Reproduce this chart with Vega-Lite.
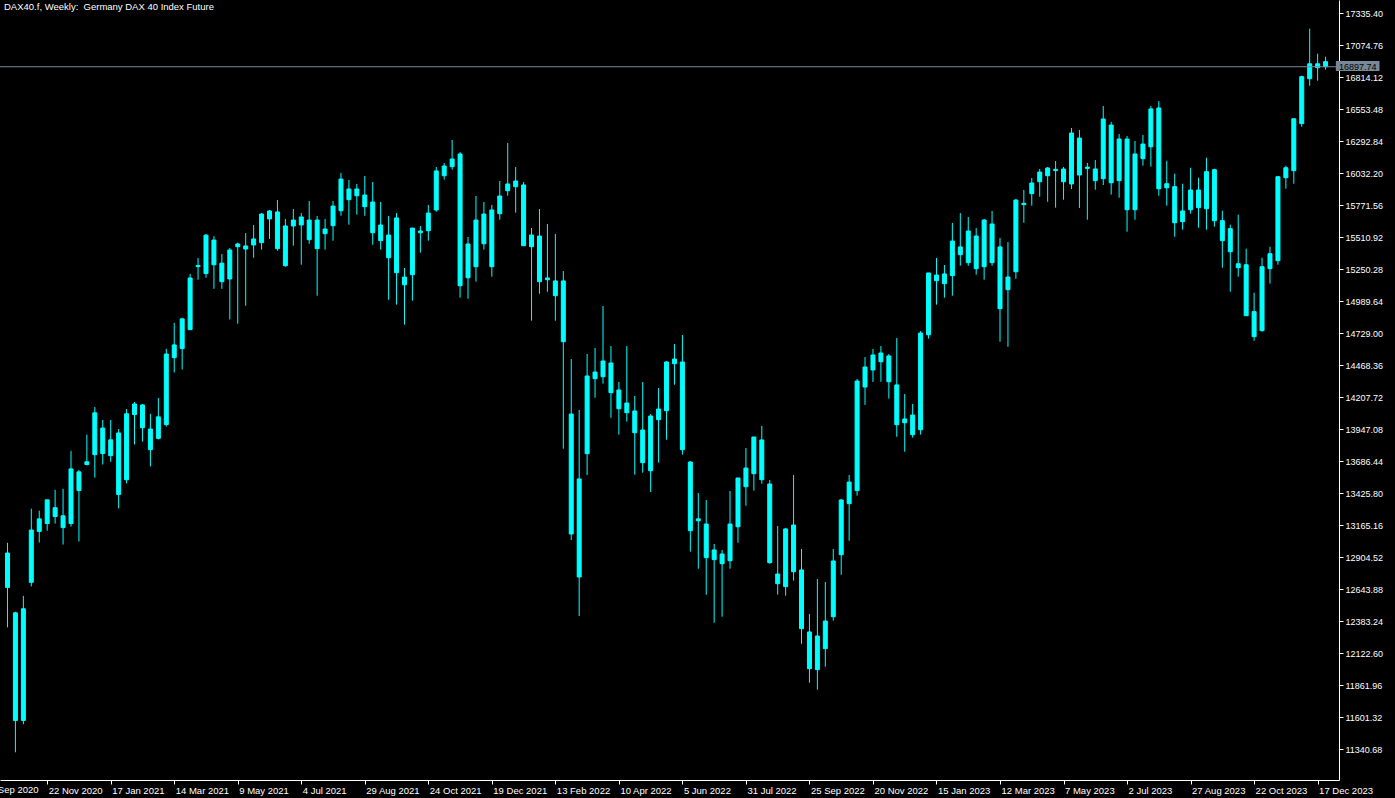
{
  "$schema": "https://vega.github.io/schema/vega-lite/v6.json",
  "width": 1339,
  "height": 780,
  "autosize": {"type": "none"},
  "padding": {"left": 0, "top": 0, "right": 56, "bottom": 18},
  "background": "#000000",
  "config": {"view": {"stroke": null}},
  "title": {"text": "DAX40.f, Weekly:\u00a0 Germany DAX 40 Index Future", "anchor": "start", "frame": "group", "orient": "top", "offset": -12, "dx": 4, "dy": -1, "font": "Liberation Sans", "fontSize": 9.5, "fontWeight": "normal", "color": "#FFFFFF", "baseline": "top"},
  "layer": [
    {
      "data": {"name": "candles", "values": [
        {"d":"2020-10-18","o":12937,"h":13020,"l":12332,"c":12657},
        {"d":"2020-10-25","o":12450,"h":12458,"l":11314,"c":11573},
        {"d":"2020-11-01","o":11573,"h":12588,"l":11542,"c":12483},
        {"d":"2020-11-08","o":12698,"h":13298,"l":12665,"c":13124},
        {"d":"2020-11-15","o":13113,"h":13282,"l":13023,"c":13215},
        {"d":"2020-11-22","o":13177,"h":13370,"l":13119,"c":13370},
        {"d":"2020-11-29","o":13306,"h":13452,"l":13177,"c":13234},
        {"d":"2020-12-06","o":13240,"h":13460,"l":13006,"c":13144},
        {"d":"2020-12-13","o":13177,"h":13769,"l":13152,"c":13622},
        {"d":"2020-12-20","o":13598,"h":13614,"l":13031,"c":13446},
        {"d":"2020-12-27","o":13658,"h":13901,"l":13650,"c":13680},
        {"d":"2021-01-03","o":13738,"h":14126,"l":13551,"c":14079},
        {"d":"2021-01-10","o":13955,"h":14021,"l":13658,"c":13747},
        {"d":"2021-01-17","o":13730,"h":14021,"l":13680,"c":13859},
        {"d":"2021-01-24","o":13915,"h":13947,"l":13300,"c":13414},
        {"d":"2021-01-31","o":13534,"h":14109,"l":13504,"c":14071},
        {"d":"2021-02-07","o":14065,"h":14167,"l":13821,"c":14151},
        {"d":"2021-02-14","o":14143,"h":14151,"l":13845,"c":13958},
        {"d":"2021-02-21","o":13947,"h":14071,"l":13642,"c":13779},
        {"d":"2021-02-28","o":13871,"h":14200,"l":13862,"c":14046},
        {"d":"2021-03-07","o":13983,"h":14600,"l":13967,"c":14558},
        {"d":"2021-03-14","o":14528,"h":14811,"l":14407,"c":14632},
        {"d":"2021-03-21","o":14602,"h":14853,"l":14432,"c":14844},
        {"d":"2021-03-28","o":14756,"h":15210,"l":14756,"c":15177},
        {"d":"2021-04-04","o":15270,"h":15340,"l":15163,"c":15278},
        {"d":"2021-04-11","o":15213,"h":15535,"l":15180,"c":15526},
        {"d":"2021-04-18","o":15486,"h":15518,"l":15089,"c":15285},
        {"d":"2021-04-25","o":15298,"h":15372,"l":15089,"c":15147},
        {"d":"2021-05-02","o":15169,"h":15422,"l":14839,"c":15405},
        {"d":"2021-05-09","o":15432,"h":15465,"l":14805,"c":15454},
        {"d":"2021-05-16","o":15438,"h":15543,"l":14951,"c":15413},
        {"d":"2021-05-23","o":15446,"h":15609,"l":15342,"c":15495},
        {"d":"2021-05-30","o":15465,"h":15706,"l":15408,"c":15698},
        {"d":"2021-06-06","o":15658,"h":15731,"l":15495,"c":15723},
        {"d":"2021-06-13","o":15715,"h":15812,"l":15399,"c":15416},
        {"d":"2021-06-20","o":15277,"h":15658,"l":15269,"c":15601},
        {"d":"2021-06-27","o":15601,"h":15739,"l":15440,"c":15649},
        {"d":"2021-07-04","o":15609,"h":15706,"l":15285,"c":15674},
        {"d":"2021-07-11","o":15649,"h":15804,"l":15456,"c":15489},
        {"d":"2021-07-18","o":15416,"h":15682,"l":15033,"c":15649},
        {"d":"2021-07-25","o":15576,"h":15658,"l":15408,"c":15538},
        {"d":"2021-08-01","o":15603,"h":15804,"l":15481,"c":15763},
        {"d":"2021-08-08","o":15725,"h":16032,"l":15684,"c":15983},
        {"d":"2021-08-15","o":15902,"h":15975,"l":15611,"c":15815},
        {"d":"2021-08-22","o":15847,"h":15943,"l":15693,"c":15902},
        {"d":"2021-08-29","o":15853,"h":16008,"l":15684,"c":15758},
        {"d":"2021-09-05","o":15796,"h":15959,"l":15448,"c":15546},
        {"d":"2021-09-12","o":15609,"h":15796,"l":15408,"c":15481},
        {"d":"2021-09-19","o":15342,"h":15682,"l":15000,"c":15527},
        {"d":"2021-09-26","o":15666,"h":15706,"l":14960,"c":15220},
        {"d":"2021-10-03","o":15122,"h":15258,"l":14797,"c":15185},
        {"d":"2021-10-10","o":15204,"h":15584,"l":14992,"c":15584},
        {"d":"2021-10-17","o":15560,"h":15601,"l":15383,"c":15546},
        {"d":"2021-10-24","o":15562,"h":15772,"l":15481,"c":15706},
        {"d":"2021-10-31","o":15731,"h":16081,"l":15717,"c":16049},
        {"d":"2021-11-07","o":16010,"h":16114,"l":15978,"c":16089},
        {"d":"2021-11-14","o":16084,"h":16301,"l":16059,"c":16146},
        {"d":"2021-11-21","o":16187,"h":16203,"l":15017,"c":15114},
        {"d":"2021-11-28","o":15454,"h":15511,"l":15008,"c":15179},
        {"d":"2021-12-05","o":15269,"h":15845,"l":15147,"c":15649},
        {"d":"2021-12-12","o":15698,"h":15796,"l":15408,"c":15456},
        {"d":"2021-12-19","o":15269,"h":15772,"l":15188,"c":15731},
        {"d":"2021-12-26","o":15701,"h":15967,"l":15652,"c":15845},
        {"d":"2022-01-02","o":15888,"h":16277,"l":15847,"c":15943},
        {"d":"2022-01-09","o":15921,"h":16081,"l":15709,"c":15967},
        {"d":"2022-01-16","o":15935,"h":15959,"l":15440,"c":15440},
        {"d":"2022-01-23","o":15432,"h":15584,"l":14829,"c":15527},
        {"d":"2022-01-30","o":15519,"h":15739,"l":15049,"c":15147},
        {"d":"2022-02-06","o":15163,"h":15617,"l":15065,"c":15177},
        {"d":"2022-02-13","o":15153,"h":15535,"l":14829,"c":15033},
        {"d":"2022-02-20","o":15153,"h":15234,"l":13787,"c":14658},
        {"d":"2022-02-27","o":14069,"h":14517,"l":13043,"c":13092},
        {"d":"2022-03-06","o":12742,"h":14102,"l":12424,"c":13540},
        {"d":"2022-03-13","o":13746,"h":14558,"l":13572,"c":14379},
        {"d":"2022-03-20","o":14357,"h":14607,"l":14202,"c":14411},
        {"d":"2022-03-27","o":14373,"h":14949,"l":14316,"c":14501},
        {"d":"2022-04-03","o":14485,"h":14623,"l":14039,"c":14243},
        {"d":"2022-04-10","o":14265,"h":14330,"l":13901,"c":14112},
        {"d":"2022-04-17","o":14159,"h":14623,"l":14007,"c":14080},
        {"d":"2022-04-24","o":13917,"h":14216,"l":13575,"c":14094},
        {"d":"2022-05-01","o":13939,"h":14330,"l":13591,"c":13673},
        {"d":"2022-05-08","o":13607,"h":14069,"l":13434,"c":14053},
        {"d":"2022-05-15","o":14110,"h":14281,"l":13673,"c":14023},
        {"d":"2022-05-22","o":14096,"h":14501,"l":13860,"c":14493},
        {"d":"2022-05-29","o":14517,"h":14639,"l":14308,"c":14479},
        {"d":"2022-06-05","o":14493,"h":14713,"l":13738,"c":13779},
        {"d":"2022-06-12","o":13678,"h":13687,"l":12948,"c":13119},
        {"d":"2022-06-19","o":13200,"h":13426,"l":12809,"c":13215},
        {"d":"2022-06-26","o":13173,"h":13369,"l":12598,"c":12899},
        {"d":"2022-07-03","o":12883,"h":13011,"l":12369,"c":12962},
        {"d":"2022-07-10","o":12929,"h":12962,"l":12418,"c":12850},
        {"d":"2022-07-17","o":12874,"h":13442,"l":12809,"c":13173},
        {"d":"2022-07-24","o":13151,"h":13548,"l":13021,"c":13548},
        {"d":"2022-07-31","o":13477,"h":13792,"l":13322,"c":13629},
        {"d":"2022-08-07","o":13583,"h":13882,"l":13445,"c":13882},
        {"d":"2022-08-14","o":13858,"h":13972,"l":13502,"c":13534},
        {"d":"2022-08-21","o":13499,"h":13532,"l":12850,"c":12858},
        {"d":"2022-08-28","o":12766,"h":13157,"l":12598,"c":12687},
        {"d":"2022-09-04","o":12663,"h":13141,"l":12589,"c":13133},
        {"d":"2022-09-11","o":13165,"h":13572,"l":12712,"c":12785},
        {"d":"2022-09-18","o":12799,"h":12970,"l":12198,"c":12321},
        {"d":"2022-09-25","o":12294,"h":12440,"l":11881,"c":11995},
        {"d":"2022-10-02","o":11987,"h":12725,"l":11824,"c":12261},
        {"d":"2022-10-09","o":12158,"h":12701,"l":12011,"c":12383},
        {"d":"2022-10-16","o":12418,"h":12970,"l":12386,"c":12872},
        {"d":"2022-10-23","o":12923,"h":13377,"l":12760,"c":13369},
        {"d":"2022-10-30","o":13339,"h":13572,"l":13037,"c":13515},
        {"d":"2022-11-06","o":13445,"h":14354,"l":13404,"c":14338},
        {"d":"2022-11-13","o":14289,"h":14533,"l":14143,"c":14452},
        {"d":"2022-11-20","o":14428,"h":14599,"l":14330,"c":14550},
        {"d":"2022-11-27","o":14495,"h":14623,"l":14332,"c":14566},
        {"d":"2022-12-04","o":14542,"h":14558,"l":14194,"c":14332},
        {"d":"2022-12-11","o":14306,"h":14688,"l":13884,"c":13982},
        {"d":"2022-12-18","o":13998,"h":14232,"l":13762,"c":14029},
        {"d":"2022-12-25","o":14061,"h":14151,"l":13876,"c":13901},
        {"d":"2023-01-01","o":13941,"h":14745,"l":13901,"c":14729},
        {"d":"2023-01-08","o":14715,"h":15218,"l":14683,"c":15218},
        {"d":"2023-01-15","o":15201,"h":15340,"l":14960,"c":15155},
        {"d":"2023-01-22","o":15131,"h":15283,"l":15017,"c":15210},
        {"d":"2023-01-29","o":15196,"h":15625,"l":15033,"c":15478},
        {"d":"2023-02-05","o":15430,"h":15706,"l":15277,"c":15367},
        {"d":"2023-02-12","o":15302,"h":15674,"l":15277,"c":15560},
        {"d":"2023-02-19","o":15519,"h":15584,"l":15204,"c":15253},
        {"d":"2023-02-26","o":15269,"h":15658,"l":15163,"c":15649},
        {"d":"2023-03-05","o":15617,"h":15723,"l":15277,"c":15302},
        {"d":"2023-03-12","o":15430,"h":15503,"l":14658,"c":14927},
        {"d":"2023-03-19","o":15082,"h":15470,"l":14617,"c":15185},
        {"d":"2023-03-26","o":15228,"h":15821,"l":15171,"c":15812},
        {"d":"2023-04-02","o":15775,"h":15894,"l":15627,"c":15785},
        {"d":"2023-04-09","o":15864,"h":15991,"l":15766,"c":15951},
        {"d":"2023-04-16","o":15961,"h":16065,"l":15839,"c":16040},
        {"d":"2023-04-23","o":16010,"h":16081,"l":15798,"c":16073},
        {"d":"2023-04-30","o":16052,"h":16130,"l":15750,"c":16062},
        {"d":"2023-05-07","o":16065,"h":16081,"l":15815,"c":15961},
        {"d":"2023-05-14","o":15943,"h":16399,"l":15902,"c":16358},
        {"d":"2023-05-21","o":16317,"h":16382,"l":15747,"c":16016},
        {"d":"2023-05-28","o":16070,"h":16114,"l":15652,"c":16080},
        {"d":"2023-06-04","o":16065,"h":16138,"l":15896,"c":15970},
        {"d":"2023-06-11","o":15986,"h":16578,"l":15934,"c":16472},
        {"d":"2023-06-18","o":16423,"h":16448,"l":15856,"c":15953},
        {"d":"2023-06-25","o":15970,"h":16350,"l":15831,"c":16309},
        {"d":"2023-07-02","o":16309,"h":16334,"l":15554,"c":15733},
        {"d":"2023-07-09","o":15733,"h":16293,"l":15652,"c":16187},
        {"d":"2023-07-16","o":16149,"h":16342,"l":16092,"c":16268},
        {"d":"2023-07-23","o":16246,"h":16578,"l":16084,"c":16554},
        {"d":"2023-07-30","o":16562,"h":16619,"l":15847,"c":15904},
        {"d":"2023-08-06","o":15912,"h":16132,"l":15766,"c":15945},
        {"d":"2023-08-13","o":15921,"h":16027,"l":15513,"c":15627},
        {"d":"2023-08-20","o":15636,"h":15945,"l":15570,"c":15723},
        {"d":"2023-08-27","o":15733,"h":16075,"l":15701,"c":15894},
        {"d":"2023-09-03","o":15894,"h":15994,"l":15587,"c":15750},
        {"d":"2023-09-10","o":15741,"h":16157,"l":15570,"c":16043},
        {"d":"2023-09-17","o":16059,"h":16067,"l":15595,"c":15644},
        {"d":"2023-09-24","o":15644,"h":15725,"l":15261,"c":15481},
        {"d":"2023-10-01","o":15579,"h":15611,"l":15065,"c":15391},
        {"d":"2023-10-08","o":15293,"h":15693,"l":15188,"c":15261},
        {"d":"2023-10-15","o":15285,"h":15416,"l":14870,"c":14870},
        {"d":"2023-10-22","o":14903,"h":15057,"l":14666,"c":14699},
        {"d":"2023-10-29","o":14748,"h":15342,"l":14740,"c":15269},
        {"d":"2023-11-05","o":15253,"h":15432,"l":15131,"c":15375},
        {"d":"2023-11-12","o":15318,"h":16002,"l":15285,"c":16002},
        {"d":"2023-11-19","o":15994,"h":16092,"l":15904,"c":16075},
        {"d":"2023-11-26","o":16051,"h":16474,"l":15945,"c":16474},
        {"d":"2023-12-03","o":16434,"h":16825,"l":16409,"c":16817},
        {"d":"2023-12-10","o":16800,"h":17208,"l":16743,"c":16922},
        {"d":"2023-12-17","o":16922,"h":17004,"l":16784,"c":16890},
        {"d":"2023-12-24","o":16939,"h":16980,"l":16874,"c":16897.74}
      ], "format": {"parse": {"d": "utc:'%Y-%m-%d'"}}},
      "layer": [
        {
          "mark": {"type": "rule", "color": "#00FFFF", "strokeWidth": 1},
          "encoding": {
            "x": {"field": "d", "type": "temporal",
              "scale": {"type": "utc", "domain": [{"year": 2020, "month": 10, "date": 15, "hours": 19, "minutes": 30, "utc": true}, {"year": 2023, "month": 12, "date": 31, "hours": 10, "minutes": 30, "utc": true}]},
              "axis": {"orient": "bottom", "title": null, "grid": false,
                "values": [
                  {"year": 2020, "month": 11, "date": 22, "utc": true},
                  {"year": 2021, "month": 1, "date": 17, "utc": true},
                  {"year": 2021, "month": 3, "date": 14, "utc": true},
                  {"year": 2021, "month": 5, "date": 9, "utc": true},
                  {"year": 2021, "month": 7, "date": 4, "utc": true},
                  {"year": 2021, "month": 8, "date": 29, "utc": true},
                  {"year": 2021, "month": 10, "date": 24, "utc": true},
                  {"year": 2021, "month": 12, "date": 19, "utc": true},
                  {"year": 2022, "month": 2, "date": 13, "utc": true},
                  {"year": 2022, "month": 4, "date": 10, "utc": true},
                  {"year": 2022, "month": 6, "date": 5, "utc": true},
                  {"year": 2022, "month": 7, "date": 31, "utc": true},
                  {"year": 2022, "month": 9, "date": 25, "utc": true},
                  {"year": 2022, "month": 11, "date": 20, "utc": true},
                  {"year": 2023, "month": 1, "date": 15, "utc": true},
                  {"year": 2023, "month": 3, "date": 12, "utc": true},
                  {"year": 2023, "month": 5, "date": 7, "utc": true},
                  {"year": 2023, "month": 7, "date": 2, "utc": true},
                  {"year": 2023, "month": 8, "date": 27, "utc": true},
                  {"year": 2023, "month": 10, "date": 22, "utc": true},
                  {"year": 2023, "month": 12, "date": 17, "utc": true}
                ],
                "labelExpr": "utcFormat(datum.value, '%-d %b %Y')",
                "labelAlign": "left", "labelBaseline": "top", "labelPadding": 1, "labelOffset": 1,
                "tickSize": 4, "labelFlush": false, "labelOverlap": false, "labelBound": false,
                "domainColor": "#FFFFFF", "tickColor": "#FFFFFF", "labelColor": "#FFFFFF",
                "labelFont": "Liberation Sans", "labelFontSize": 9.5}},
            "y": {"field": "l", "type": "quantitative",
              "scale": {"domain": [11088.2, 17441.3], "nice": false, "zero": false},
              "axis": {"orient": "right", "title": null, "grid": false,
                "values": [17335.40, 17074.76, 16814.12, 16553.48, 16292.84, 16032.20, 15771.56, 15510.92, 15250.28, 14989.64, 14729.00, 14468.36, 14207.72, 13947.08, 13686.44, 13425.80, 13165.16, 12904.52, 12643.88, 12383.24, 12122.60, 11861.96, 11601.32, 11340.68],
                "labelExpr": "format(datum.value, '.2f')", "tickSize": 4, "labelPadding": 2, "labelFlush": false, "labelOverlap": false,
                "domainColor": "#FFFFFF", "tickColor": "#FFFFFF", "labelColor": "#FFFFFF",
                "labelFont": "Liberation Sans", "labelFontSize": 9}},
            "y2": {"field": "h"}
          }
        },
        {
          "mark": {"type": "bar", "color": "#00FFFF", "size": 4, "stroke": "#00FFFF", "strokeWidth": 1},
          "encoding": {
            "x": {"field": "d", "type": "temporal",
              "axis": {"orient": "bottom", "title": null, "grid": false,
                "values": [
                  {"year": 2020, "month": 11, "date": 22, "utc": true},
                  {"year": 2021, "month": 1, "date": 17, "utc": true},
                  {"year": 2021, "month": 3, "date": 14, "utc": true},
                  {"year": 2021, "month": 5, "date": 9, "utc": true},
                  {"year": 2021, "month": 7, "date": 4, "utc": true},
                  {"year": 2021, "month": 8, "date": 29, "utc": true},
                  {"year": 2021, "month": 10, "date": 24, "utc": true},
                  {"year": 2021, "month": 12, "date": 19, "utc": true},
                  {"year": 2022, "month": 2, "date": 13, "utc": true},
                  {"year": 2022, "month": 4, "date": 10, "utc": true},
                  {"year": 2022, "month": 6, "date": 5, "utc": true},
                  {"year": 2022, "month": 7, "date": 31, "utc": true},
                  {"year": 2022, "month": 9, "date": 25, "utc": true},
                  {"year": 2022, "month": 11, "date": 20, "utc": true},
                  {"year": 2023, "month": 1, "date": 15, "utc": true},
                  {"year": 2023, "month": 3, "date": 12, "utc": true},
                  {"year": 2023, "month": 5, "date": 7, "utc": true},
                  {"year": 2023, "month": 7, "date": 2, "utc": true},
                  {"year": 2023, "month": 8, "date": 27, "utc": true},
                  {"year": 2023, "month": 10, "date": 22, "utc": true},
                  {"year": 2023, "month": 12, "date": 17, "utc": true}
                ],
                "labelExpr": "utcFormat(datum.value, '%-d %b %Y')",
                "labelAlign": "left", "labelBaseline": "top", "labelPadding": 1, "labelOffset": 1,
                "tickSize": 4, "labelFlush": false, "labelOverlap": false, "labelBound": false,
                "domainColor": "#FFFFFF", "tickColor": "#FFFFFF", "labelColor": "#FFFFFF",
                "labelFont": "Liberation Sans", "labelFontSize": 9.5}},
            "y": {"field": "o", "type": "quantitative",
              "axis": {"orient": "right", "title": null, "grid": false,
                "values": [17335.40, 17074.76, 16814.12, 16553.48, 16292.84, 16032.20, 15771.56, 15510.92, 15250.28, 14989.64, 14729.00, 14468.36, 14207.72, 13947.08, 13686.44, 13425.80, 13165.16, 12904.52, 12643.88, 12383.24, 12122.60, 11861.96, 11601.32, 11340.68],
                "labelExpr": "format(datum.value, '.2f')", "tickSize": 4, "labelPadding": 2, "labelFlush": false, "labelOverlap": false,
                "domainColor": "#FFFFFF", "tickColor": "#FFFFFF", "labelColor": "#FFFFFF",
                "labelFont": "Liberation Sans", "labelFontSize": 9}},
            "y2": {"field": "c"}
          }
        }
      ]
    },
    {
      "data": {"name": "last", "values": [{"price": 16897.74, "label": "16897.74", "cut": "27 Sep 2020"}]},
      "layer": [
        {
          "mark": {"type": "rule", "color": "#778899", "strokeWidth": 1},
          "encoding": {"y": {"field": "price", "type": "quantitative",
              "axis": {"orient": "right", "title": null, "grid": false,
                "values": [17335.40, 17074.76, 16814.12, 16553.48, 16292.84, 16032.20, 15771.56, 15510.92, 15250.28, 14989.64, 14729.00, 14468.36, 14207.72, 13947.08, 13686.44, 13425.80, 13165.16, 12904.52, 12643.88, 12383.24, 12122.60, 11861.96, 11601.32, 11340.68],
                "labelExpr": "format(datum.value, '.2f')", "tickSize": 4, "labelPadding": 2, "labelFlush": false, "labelOverlap": false,
                "domainColor": "#FFFFFF", "tickColor": "#FFFFFF", "labelColor": "#FFFFFF",
                "labelFont": "Liberation Sans", "labelFontSize": 9}}}
        },
        {
          "mark": {"type": "rect", "color": "#778899"},
          "encoding": {
            "x": {"datum": {"year": 2024, "month": 1, "date": 2, "hours": 1, "minutes": 30, "utc": true}, "type": "temporal",
              "axis": {"orient": "bottom", "title": null, "grid": false,
                "values": [
                  {"year": 2020, "month": 11, "date": 22, "utc": true},
                  {"year": 2021, "month": 1, "date": 17, "utc": true},
                  {"year": 2021, "month": 3, "date": 14, "utc": true},
                  {"year": 2021, "month": 5, "date": 9, "utc": true},
                  {"year": 2021, "month": 7, "date": 4, "utc": true},
                  {"year": 2021, "month": 8, "date": 29, "utc": true},
                  {"year": 2021, "month": 10, "date": 24, "utc": true},
                  {"year": 2021, "month": 12, "date": 19, "utc": true},
                  {"year": 2022, "month": 2, "date": 13, "utc": true},
                  {"year": 2022, "month": 4, "date": 10, "utc": true},
                  {"year": 2022, "month": 6, "date": 5, "utc": true},
                  {"year": 2022, "month": 7, "date": 31, "utc": true},
                  {"year": 2022, "month": 9, "date": 25, "utc": true},
                  {"year": 2022, "month": 11, "date": 20, "utc": true},
                  {"year": 2023, "month": 1, "date": 15, "utc": true},
                  {"year": 2023, "month": 3, "date": 12, "utc": true},
                  {"year": 2023, "month": 5, "date": 7, "utc": true},
                  {"year": 2023, "month": 7, "date": 2, "utc": true},
                  {"year": 2023, "month": 8, "date": 27, "utc": true},
                  {"year": 2023, "month": 10, "date": 22, "utc": true},
                  {"year": 2023, "month": 12, "date": 17, "utc": true}
                ],
                "labelExpr": "utcFormat(datum.value, '%-d %b %Y')",
                "labelAlign": "left", "labelBaseline": "top", "labelPadding": 1, "labelOffset": 1,
                "tickSize": 4, "labelFlush": false, "labelOverlap": false, "labelBound": false,
                "domainColor": "#FFFFFF", "tickColor": "#FFFFFF", "labelColor": "#FFFFFF",
                "labelFont": "Liberation Sans", "labelFontSize": 9.5}},
            "x2": {"datum": {"year": 2024, "month": 2, "date": 9, "hours": 13, "minutes": 30, "utc": true}},
            "y": {"datum": 16945, "type": "quantitative",
              "axis": {"orient": "right", "title": null, "grid": false,
                "values": [17335.40, 17074.76, 16814.12, 16553.48, 16292.84, 16032.20, 15771.56, 15510.92, 15250.28, 14989.64, 14729.00, 14468.36, 14207.72, 13947.08, 13686.44, 13425.80, 13165.16, 12904.52, 12643.88, 12383.24, 12122.60, 11861.96, 11601.32, 11340.68],
                "labelExpr": "format(datum.value, '.2f')", "tickSize": 4, "labelPadding": 2, "labelFlush": false, "labelOverlap": false,
                "domainColor": "#FFFFFF", "tickColor": "#FFFFFF", "labelColor": "#FFFFFF",
                "labelFont": "Liberation Sans", "labelFontSize": 9}},
            "y2": {"datum": 16863}
          }
        },
        {
          "mark": {"type": "text", "color": "#000000", "font": "Liberation Sans", "fontSize": 9, "align": "center", "baseline": "middle"},
          "encoding": {
            "x": {"datum": {"year": 2024, "month": 1, "date": 21, "hours": 7, "minutes": 30, "utc": true}, "type": "temporal",
              "axis": {"orient": "bottom", "title": null, "grid": false,
                "values": [
                  {"year": 2020, "month": 11, "date": 22, "utc": true},
                  {"year": 2021, "month": 1, "date": 17, "utc": true},
                  {"year": 2021, "month": 3, "date": 14, "utc": true},
                  {"year": 2021, "month": 5, "date": 9, "utc": true},
                  {"year": 2021, "month": 7, "date": 4, "utc": true},
                  {"year": 2021, "month": 8, "date": 29, "utc": true},
                  {"year": 2021, "month": 10, "date": 24, "utc": true},
                  {"year": 2021, "month": 12, "date": 19, "utc": true},
                  {"year": 2022, "month": 2, "date": 13, "utc": true},
                  {"year": 2022, "month": 4, "date": 10, "utc": true},
                  {"year": 2022, "month": 6, "date": 5, "utc": true},
                  {"year": 2022, "month": 7, "date": 31, "utc": true},
                  {"year": 2022, "month": 9, "date": 25, "utc": true},
                  {"year": 2022, "month": 11, "date": 20, "utc": true},
                  {"year": 2023, "month": 1, "date": 15, "utc": true},
                  {"year": 2023, "month": 3, "date": 12, "utc": true},
                  {"year": 2023, "month": 5, "date": 7, "utc": true},
                  {"year": 2023, "month": 7, "date": 2, "utc": true},
                  {"year": 2023, "month": 8, "date": 27, "utc": true},
                  {"year": 2023, "month": 10, "date": 22, "utc": true},
                  {"year": 2023, "month": 12, "date": 17, "utc": true}
                ],
                "labelExpr": "utcFormat(datum.value, '%-d %b %Y')",
                "labelAlign": "left", "labelBaseline": "top", "labelPadding": 1, "labelOffset": 1,
                "tickSize": 4, "labelFlush": false, "labelOverlap": false, "labelBound": false,
                "domainColor": "#FFFFFF", "tickColor": "#FFFFFF", "labelColor": "#FFFFFF",
                "labelFont": "Liberation Sans", "labelFontSize": 9.5}},
            "y": {"field": "price", "type": "quantitative",
              "axis": {"orient": "right", "title": null, "grid": false,
                "values": [17335.40, 17074.76, 16814.12, 16553.48, 16292.84, 16032.20, 15771.56, 15510.92, 15250.28, 14989.64, 14729.00, 14468.36, 14207.72, 13947.08, 13686.44, 13425.80, 13165.16, 12904.52, 12643.88, 12383.24, 12122.60, 11861.96, 11601.32, 11340.68],
                "labelExpr": "format(datum.value, '.2f')", "tickSize": 4, "labelPadding": 2, "labelFlush": false, "labelOverlap": false,
                "domainColor": "#FFFFFF", "tickColor": "#FFFFFF", "labelColor": "#FFFFFF",
                "labelFont": "Liberation Sans", "labelFontSize": 9}},
            "text": {"field": "label"}
          }
        },
        {
          "mark": {"type": "text", "color": "#FFFFFF", "font": "Liberation Sans", "fontSize": 9.5, "align": "left", "baseline": "top", "dx": 1},
          "encoding": {
            "x": {"datum": {"year": 2020, "month": 9, "date": 27, "utc": true}, "type": "temporal",
              "axis": {"orient": "bottom", "title": null, "grid": false,
                "values": [
                  {"year": 2020, "month": 11, "date": 22, "utc": true},
                  {"year": 2021, "month": 1, "date": 17, "utc": true},
                  {"year": 2021, "month": 3, "date": 14, "utc": true},
                  {"year": 2021, "month": 5, "date": 9, "utc": true},
                  {"year": 2021, "month": 7, "date": 4, "utc": true},
                  {"year": 2021, "month": 8, "date": 29, "utc": true},
                  {"year": 2021, "month": 10, "date": 24, "utc": true},
                  {"year": 2021, "month": 12, "date": 19, "utc": true},
                  {"year": 2022, "month": 2, "date": 13, "utc": true},
                  {"year": 2022, "month": 4, "date": 10, "utc": true},
                  {"year": 2022, "month": 6, "date": 5, "utc": true},
                  {"year": 2022, "month": 7, "date": 31, "utc": true},
                  {"year": 2022, "month": 9, "date": 25, "utc": true},
                  {"year": 2022, "month": 11, "date": 20, "utc": true},
                  {"year": 2023, "month": 1, "date": 15, "utc": true},
                  {"year": 2023, "month": 3, "date": 12, "utc": true},
                  {"year": 2023, "month": 5, "date": 7, "utc": true},
                  {"year": 2023, "month": 7, "date": 2, "utc": true},
                  {"year": 2023, "month": 8, "date": 27, "utc": true},
                  {"year": 2023, "month": 10, "date": 22, "utc": true},
                  {"year": 2023, "month": 12, "date": 17, "utc": true}
                ],
                "labelExpr": "utcFormat(datum.value, '%-d %b %Y')",
                "labelAlign": "left", "labelBaseline": "top", "labelPadding": 1, "labelOffset": 1,
                "tickSize": 4, "labelFlush": false, "labelOverlap": false, "labelBound": false,
                "domainColor": "#FFFFFF", "tickColor": "#FFFFFF", "labelColor": "#FFFFFF",
                "labelFont": "Liberation Sans", "labelFontSize": 9.5}},
            "y": {"datum": 11047.5, "type": "quantitative",
              "axis": {"orient": "right", "title": null, "grid": false,
                "values": [17335.40, 17074.76, 16814.12, 16553.48, 16292.84, 16032.20, 15771.56, 15510.92, 15250.28, 14989.64, 14729.00, 14468.36, 14207.72, 13947.08, 13686.44, 13425.80, 13165.16, 12904.52, 12643.88, 12383.24, 12122.60, 11861.96, 11601.32, 11340.68],
                "labelExpr": "format(datum.value, '.2f')", "tickSize": 4, "labelPadding": 2, "labelFlush": false, "labelOverlap": false,
                "domainColor": "#FFFFFF", "tickColor": "#FFFFFF", "labelColor": "#FFFFFF",
                "labelFont": "Liberation Sans", "labelFontSize": 9}},
            "text": {"field": "cut"}
          }
        }
      ]
    }
  ]
}
